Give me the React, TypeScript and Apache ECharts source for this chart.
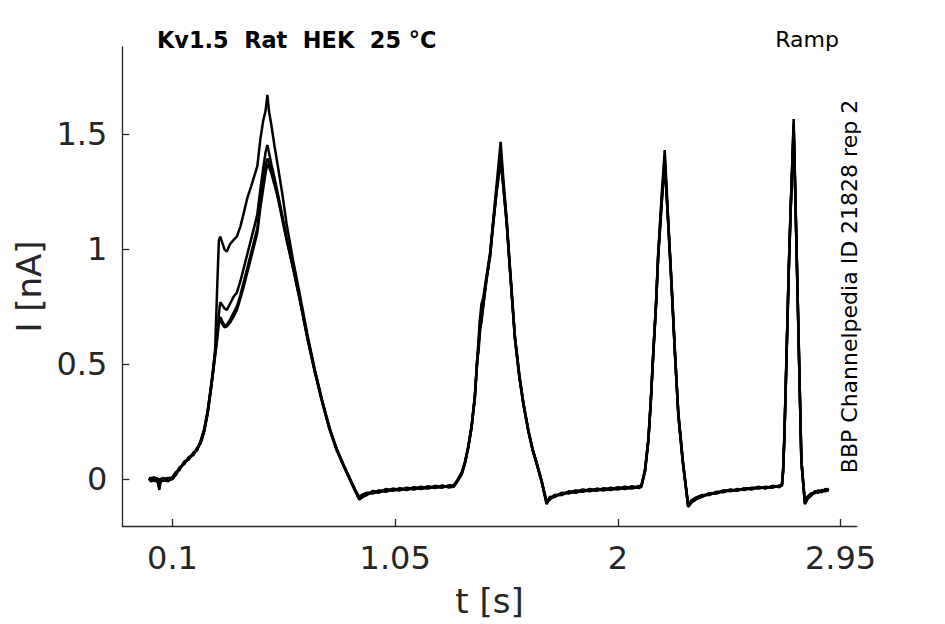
import React, { useEffect, useRef } from "react";
import * as echarts from "echarts";

// time points [s]
const timeS = [
  0.000, 0.010, 0.020, 0.030, 0.038, 0.044, 0.050, 0.060, 0.070, 0.080, 0.090, 0.100,
  0.115, 0.130, 0.150, 0.170, 0.190, 0.205, 0.220, 0.235, 0.250, 0.262, 0.272, 0.282,
  0.290, 0.298, 0.304, 0.312, 0.322, 0.332, 0.345, 0.360, 0.375, 0.390, 0.405, 0.420,
  0.435, 0.450, 0.462, 0.475, 0.487, 0.497, 0.505, 0.512, 0.522, 0.535, 0.550, 0.570,
  0.587, 0.615, 0.644, 0.675, 0.705, 0.738, 0.770, 0.800, 0.830, 0.857, 0.880, 0.897,
  0.910, 0.930, 0.955, 0.980, 1.010, 1.040, 1.070, 1.100, 1.130, 1.160, 1.190, 1.220,
  1.250, 1.280, 1.300, 1.315, 1.334, 1.348, 1.362, 1.376, 1.390, 1.400, 1.406, 1.412,
  1.418, 1.426, 1.440, 1.455, 1.469, 1.483, 1.492, 1.500, 1.512, 1.526, 1.540, 1.561,
  1.580, 1.597, 1.618, 1.636, 1.654, 1.675, 1.696, 1.710, 1.730, 1.760, 1.790, 1.820,
  1.850, 1.880, 1.910, 1.940, 1.970, 2.000, 2.030, 2.060, 2.090, 2.100, 2.116, 2.130,
  2.140, 2.151, 2.163, 2.172, 2.187, 2.200, 2.215, 2.230, 2.244, 2.258, 2.277, 2.300,
  2.315, 2.335, 2.360, 2.390, 2.420, 2.450, 2.480, 2.510, 2.540, 2.570, 2.600, 2.630,
  2.660, 2.690, 2.700, 2.705, 2.710, 2.716, 2.723, 2.730, 2.737, 2.744, 2.750, 2.758,
  2.766, 2.774, 2.783, 2.798, 2.810, 2.825, 2.840, 2.855, 2.870, 2.885, 2.900,
];

// current [nA], repetition 1..4
const rep1 = [
  0.000, -0.012, 0.004, -0.006, -0.014, -0.048, -0.004, 0.006, -0.010, 0.002, -0.006, 0.006,
  0.028, 0.042, 0.072, 0.088, 0.112, 0.128, 0.162, 0.212, 0.292, 0.382, 0.462, 0.565,
  0.810, 1.040, 1.055, 1.030, 1.000, 0.990, 1.022, 1.040, 1.056, 1.100, 1.162, 1.226,
  1.272, 1.322, 1.362, 1.480, 1.560, 1.602, 1.672, 1.600, 1.540, 1.452, 1.360, 1.232,
  1.110, 0.950, 0.800, 0.632, 0.486, 0.344, 0.222, 0.132, 0.062, 0.002, -0.048, -0.082,
  -0.072, -0.062, -0.060, -0.050, -0.052, -0.042, -0.048, -0.038, -0.044, -0.034, -0.040, -0.030,
  -0.036, -0.028, -0.030, -0.005, 0.028, 0.075, 0.142, 0.232, 0.362, 0.522, 0.610, 0.700,
  0.760, 0.790, 0.885, 0.985, 1.135, 1.285, 1.380, 1.468, 1.300, 1.128, 0.920, 0.622,
  0.452, 0.332, 0.214, 0.132, 0.070, -0.008, -0.100, -0.082, -0.076, -0.062, -0.060, -0.050,
  -0.054, -0.044, -0.050, -0.040, -0.046, -0.036, -0.042, -0.032, -0.038, -0.032, 0.042, 0.172,
  0.332, 0.550, 0.768, 0.982, 1.235, 1.432, 1.128, 0.838, 0.548, 0.288, 0.084, -0.116,
  -0.096, -0.082, -0.072, -0.068, -0.058, -0.056, -0.048, -0.050, -0.042, -0.044, -0.036, -0.040,
  -0.032, -0.034, -0.026, 0.040, 0.180, 0.400, 0.680, 0.950, 1.180, 1.380, 1.567, 1.210,
  0.850, 0.490, 0.084, -0.104, -0.080, -0.066, -0.060, -0.050, -0.056, -0.044, -0.050,
];

const rep2 = [
  0.006, 0.000, -0.010, 0.006, -0.004, -0.010, 0.002, -0.008, 0.004, -0.012, 0.002, -0.002,
  0.022, 0.050, 0.064, 0.096, 0.104, 0.136, 0.154, 0.204, 0.284, 0.372, 0.452, 0.545,
  0.615, 0.720, 0.770, 0.758, 0.742, 0.736, 0.762, 0.792, 0.812, 0.862, 0.922, 0.982,
  1.042, 1.102, 1.152, 1.262, 1.352, 1.422, 1.454, 1.420, 1.370, 1.312, 1.240, 1.140,
  1.050, 0.922, 0.782, 0.622, 0.482, 0.342, 0.222, 0.132, 0.060, 0.000, -0.052, -0.088,
  -0.078, -0.070, -0.052, -0.058, -0.044, -0.050, -0.040, -0.046, -0.036, -0.042, -0.032, -0.038,
  -0.028, -0.036, -0.032, -0.010, 0.022, 0.070, 0.138, 0.226, 0.355, 0.512, 0.575, 0.690,
  0.710, 0.770, 0.878, 0.978, 1.125, 1.265, 1.340, 1.420, 1.280, 1.118, 0.912, 0.616,
  0.448, 0.330, 0.212, 0.130, 0.068, -0.010, -0.106, -0.088, -0.070, -0.068, -0.054, -0.058,
  -0.046, -0.052, -0.042, -0.048, -0.038, -0.044, -0.034, -0.040, -0.030, -0.034, 0.036, 0.166,
  0.326, 0.542, 0.760, 0.972, 1.215, 1.400, 1.118, 0.830, 0.542, 0.284, 0.080, -0.122,
  -0.102, -0.088, -0.078, -0.062, -0.064, -0.050, -0.054, -0.044, -0.048, -0.038, -0.042, -0.034,
  -0.038, -0.028, -0.030, 0.036, 0.172, 0.392, 0.670, 0.940, 1.168, 1.366, 1.548, 1.200,
  0.842, 0.484, 0.080, -0.110, -0.086, -0.072, -0.054, -0.058, -0.048, -0.052, -0.042,
];

const rep3 = [
  -0.006, 0.005, -0.002, -0.012, 0.002, -0.008, -0.014, 0.000, -0.006, 0.006, -0.004, 0.008,
  0.030, 0.038, 0.076, 0.084, 0.116, 0.124, 0.166, 0.216, 0.296, 0.386, 0.466, 0.550,
  0.620, 0.690, 0.705, 0.688, 0.668, 0.672, 0.692, 0.722, 0.752, 0.802, 0.862, 0.922,
  0.982, 1.042, 1.092, 1.202, 1.292, 1.362, 1.395, 1.380, 1.342, 1.292, 1.232, 1.132,
  1.045, 0.918, 0.778, 0.618, 0.478, 0.338, 0.218, 0.128, 0.058, -0.002, -0.050, -0.078,
  -0.068, -0.060, -0.064, -0.052, -0.056, -0.046, -0.050, -0.040, -0.046, -0.038, -0.042, -0.034,
  -0.038, -0.030, -0.028, -0.008, 0.025, 0.072, 0.140, 0.228, 0.358, 0.518, 0.560, 0.640,
  0.700, 0.760, 0.872, 0.972, 1.120, 1.255, 1.330, 1.400, 1.270, 1.112, 0.908, 0.612,
  0.444, 0.326, 0.210, 0.128, 0.066, -0.012, -0.110, -0.078, -0.080, -0.060, -0.064, -0.052,
  -0.056, -0.046, -0.052, -0.042, -0.048, -0.040, -0.044, -0.036, -0.040, -0.030, 0.038, 0.168,
  0.328, 0.546, 0.762, 0.968, 1.205, 1.385, 1.112, 0.826, 0.538, 0.280, 0.076, -0.112,
  -0.092, -0.080, -0.070, -0.070, -0.056, -0.058, -0.046, -0.052, -0.040, -0.046, -0.034, -0.042,
  -0.030, -0.036, -0.024, 0.034, 0.168, 0.388, 0.666, 0.934, 1.160, 1.356, 1.535, 1.194,
  0.838, 0.480, 0.076, -0.100, -0.076, -0.062, -0.062, -0.052, -0.058, -0.046, -0.052,
];

const rep4 = [
  0.002, -0.006, 0.008, 0.000, -0.018, -0.040, 0.000, -0.010, 0.002, -0.004, 0.006, 0.002,
  0.018, 0.046, 0.068, 0.092, 0.108, 0.132, 0.158, 0.208, 0.286, 0.376, 0.455, 0.535,
  0.600, 0.680, 0.690, 0.675, 0.660, 0.664, 0.680, 0.706, 0.736, 0.786, 0.842, 0.902,
  0.962, 1.022, 1.072, 1.182, 1.262, 1.332, 1.370, 1.360, 1.330, 1.282, 1.222, 1.122,
  1.040, 0.915, 0.775, 0.615, 0.475, 0.336, 0.216, 0.126, 0.056, -0.004, -0.054, -0.090,
  -0.080, -0.066, -0.056, -0.060, -0.048, -0.052, -0.044, -0.048, -0.040, -0.044, -0.036, -0.040,
  -0.032, -0.036, -0.034, -0.012, 0.020, 0.068, 0.136, 0.222, 0.352, 0.508, 0.590, 0.660,
  0.680, 0.750, 0.868, 0.968, 1.115, 1.250, 1.320, 1.385, 1.265, 1.108, 0.905, 0.608,
  0.440, 0.324, 0.208, 0.126, 0.064, -0.014, -0.098, -0.090, -0.072, -0.070, -0.056, -0.060,
  -0.050, -0.054, -0.046, -0.050, -0.042, -0.046, -0.038, -0.042, -0.034, -0.036, 0.032, 0.162,
  0.322, 0.538, 0.756, 0.962, 1.198, 1.372, 1.108, 0.822, 0.534, 0.276, 0.072, -0.120,
  -0.100, -0.086, -0.076, -0.064, -0.062, -0.052, -0.052, -0.046, -0.046, -0.040, -0.040, -0.036,
  -0.036, -0.030, -0.028, 0.030, 0.164, 0.384, 0.660, 0.928, 1.154, 1.348, 1.522, 1.188,
  0.834, 0.476, 0.072, -0.108, -0.084, -0.070, -0.056, -0.060, -0.050, -0.054, -0.046,
];

const repetitions = [rep1, rep2, rep3, rep4];

const xTickValues = [0.1, 1.05, 2, 2.95];
const yTickValues = [0, 0.5, 1, 1.5];
const xRange = [-0.114, 3.019];
const yRange = [-0.205, 1.881];

const titleText = "Kv1.5  Rat  HEK  25 °C";
const protocolText = "Ramp";
const sourceText = "BBP Channelpedia ID 21828 rep 2";

const FONT = "DejaVu Sans";
const AXIS_COLOR = "#262626";

export default function App() {
  const ref = useRef<HTMLDivElement>(null);

  useEffect(() => {
    if (!ref.current) return;
    const chart = echarts.init(ref.current, undefined, { renderer: "svg" });

    const series = repetitions.map((rep, k) => ({
      type: "line",
      name: "rep" + (k + 1),
      data: timeS.map((t, i) => [t, rep[i]]),
      showSymbol: false,
      symbol: "none",
      lineStyle: { color: "#000000", width: 2.5 },
      z: 2,
    }));

    chart.setOption({
      animation: false,
      backgroundColor: "#ffffff",
      grid: { left: 122.3, top: 47, right: 88.3, bottom: 98, containLabel: false },
      xAxis: {
        type: "value",
        min: xRange[0],
        max: xRange[1],
        name: "t [s]",
        nameLocation: "middle",
        nameGap: 58,
        nameTextStyle: { fontFamily: FONT, fontSize: 34, color: AXIS_COLOR },
        axisLine: { show: true, onZero: false, lineStyle: { color: AXIS_COLOR, width: 1.3 } },
        axisTick: {
          show: true,
          inside: true,
          length: 7,
          customValues: xTickValues,
          lineStyle: { color: AXIS_COLOR, width: 1.3 },
        },
        axisLabel: {
          customValues: xTickValues,
          fontFamily: FONT,
          fontSize: 32,
          color: AXIS_COLOR,
          margin: 16,
        },
        splitLine: { show: false },
      },
      yAxis: {
        type: "value",
        min: yRange[0],
        max: yRange[1],
        name: "I [nA]",
        nameLocation: "middle",
        nameRotate: 90,
        nameGap: 70,
        nameTextStyle: { fontFamily: FONT, fontSize: 34, color: AXIS_COLOR },
        axisLine: { show: true, onZero: false, lineStyle: { color: AXIS_COLOR, width: 1.3 } },
        axisTick: {
          show: true,
          inside: true,
          length: 7,
          customValues: yTickValues,
          lineStyle: { color: AXIS_COLOR, width: 1.3 },
        },
        axisLabel: {
          customValues: yTickValues,
          fontFamily: FONT,
          fontSize: 32,
          color: AXIS_COLOR,
          margin: 15,
        },
        splitLine: { show: false },
      },
      graphic: [
        {
          type: "text",
          x: 157,
          y: 40,
          style: {
            text: titleText,
            fontFamily: FONT,
            fontSize: 22.4,
            fontWeight: "bold",
            fill: "#000000",
            align: "left",
            textAlign: "left",
            verticalAlign: "middle",
            textVerticalAlign: "middle",
          },
        },
        {
          type: "text",
          x: 839,
          y: 39,
          style: {
            text: protocolText,
            fontFamily: FONT,
            fontSize: 22,
            fill: "#000000",
            align: "right",
            textAlign: "right",
            verticalAlign: "middle",
            textVerticalAlign: "middle",
          },
        },
        {
          type: "text",
          x: 849,
          y: 286.5,
          rotation: Math.PI / 2,
          style: {
            text: sourceText,
            fontFamily: FONT,
            fontSize: 22,
            fill: "#000000",
            align: "center",
            textAlign: "center",
            verticalAlign: "middle",
            textVerticalAlign: "middle",
          },
        },
      ],
      series,
    });

    return () => chart.dispose();
  }, []);

  return (
    <div
      ref={ref}
      style={{ position: "absolute", left: 0, top: 0, width: 945, height: 624 }}
    />
  );
}
